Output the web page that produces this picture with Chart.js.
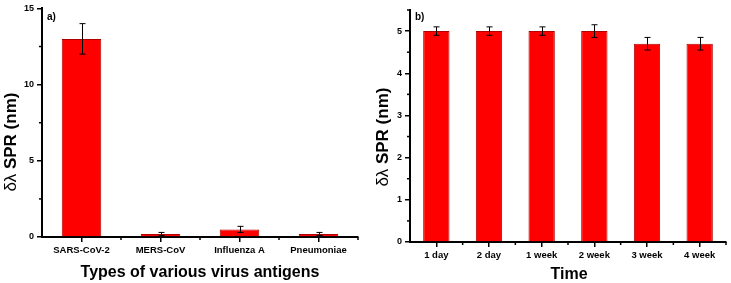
<!DOCTYPE html>
<html><head><meta charset="utf-8">
<script src="https://cdn.jsdelivr.net/npm/chart.js@4"></script>
<style>
html,body{margin:0;padding:0;background:#fff;}
#wrap{position:relative;width:731px;height:283px;}
#ca{position:absolute;left:0;top:0;}
#cb{position:absolute;left:365px;top:0;}
</style></head><body>
<div id="wrap">
<canvas id="ca" width="365" height="283"></canvas>
<canvas id="cb" width="366" height="283"></canvas>
</div>
<script>
// Panel a
const virusCategories = ["SARS-CoV-2", "MERS-CoV", "Influenza A", "Pneumoniae"];
const virusShift = [13, 0.2, 0.5, 0.2];
const virusError = [1, 0.1, 0.2, 0.1];
// Panel b
const timeCategories = ["1 day", "2 day", "1 week", "2 week", "3 week", "4 week"];
const timeShift = [5, 5, 5, 5, 4.7, 4.7];
const timeError = [0.1, 0.1, 0.1, 0.15, 0.15, 0.15];

const FONT = "'Liberation Sans', Arial, sans-serif";

function makeChart(id, cats, vals, errs, opt) {
  const plugin = {
    id: 'extras',
    afterDraw(chart) {
      const ctx = chart.ctx;
      const xs = chart.scales.x, ys = chart.scales.y;
      ctx.save();
      // error bars
      ctx.strokeStyle = '#000';
      ctx.lineWidth = 1;
      vals.forEach((v, i) => {
        const x = Math.round(xs.getPixelForValue(i)) + 0.5;
        const yt = ys.getPixelForValue(v + errs[i]);
        const yb = ys.getPixelForValue(v - errs[i]);
        ctx.beginPath();
        ctx.moveTo(x, yt); ctx.lineTo(x, yb);
        ctx.moveTo(x - 3, yt); ctx.lineTo(x + 3, yt);
        ctx.moveTo(x - 3, yb); ctx.lineTo(x + 3, yb);
        ctx.stroke();
      });
      // minor ticks y
      ctx.lineWidth = 1.5;
      const axX = ys.right;
      for (let v = 0; v <= opt.yMax + 1e-9; v += opt.minor) {
        if (Math.abs(v / opt.step - Math.round(v / opt.step)) < 1e-6) continue;
        const y = ys.getPixelForValue(v);
        ctx.beginPath(); ctx.moveTo(axX - 3, y); ctx.lineTo(axX, y); ctx.stroke();
      }
      // minor ticks x
      const axY = xs.top;
      for (let i = 0; i < cats.length; i++) {
        const x = xs.getPixelForValue(i + 0.5);
        ctx.beginPath(); ctx.moveTo(x, axY); ctx.lineTo(x, axY + 3); ctx.stroke();
      }
      // panel label
      ctx.fillStyle = '#000';
      ctx.font = "bold 10px " + FONT;
      ctx.textAlign = 'left'; ctx.textBaseline = 'middle';
      ctx.fillText(opt.panel, ys.right + 5, 17);
      // x axis title
      ctx.font = "bold 16px " + FONT;
      ctx.textAlign = 'center'; ctx.textBaseline = 'middle';
      ctx.fillText(opt.xTitle, opt.xtx, opt.xty);
      // y axis title: Greek part regular, rest bold
      ctx.translate(opt.ytx, opt.yty);
      ctx.rotate(-Math.PI / 2);
      const greek = "δλ", rest = " SPR (nm)";
      ctx.font = "17px " + FONT;
      const wg = ctx.measureText(greek).width;
      ctx.font = "bold 17px " + FONT;
      const wr = ctx.measureText(rest).width;
      const start = -(wg + wr) / 2;
      ctx.textAlign = 'left';
      ctx.font = "17px " + FONT;
      ctx.fillText(greek, start, 0);
      ctx.font = "bold 17px " + FONT;
      ctx.fillText(rest, start + wg, 0);
      ctx.restore();
    }
  };
  return new Chart(document.getElementById(id), {
    type: 'bar',
    data: {
      labels: cats,
      datasets: [{
        data: vals,
        backgroundColor: '#ff0000',
        borderColor: '#b00000',
        borderWidth: 1,
        barPercentage: opt.barPct,
        categoryPercentage: 1
      }]
    },
    options: {
      responsive: false,
      animation: false,
      events: [],
      layout: { padding: { top: opt.padTop, right: opt.padRight, left: 0, bottom: 0 } },
      plugins: { legend: { display: false }, tooltip: { enabled: false } },
      scales: {
        x: {
          afterFit(s) { s.height = opt.xH; },
          grid: { drawOnChartArea: false, offset: false, tickLength: 5, tickColor: '#000', lineWidth: 1.5 },
          border: { display: true, color: '#000', width: 2 },
          ticks: { color: '#000', font: { family: FONT, size: 9.5, weight: 'bold' }, padding: 3, maxRotation: 0, autoSkip: false }
        },
        y: {
          min: 0, max: opt.yMax,
          afterFit(s) { s.width = opt.yW; },
          grid: { drawOnChartArea: false, tickLength: 5, tickColor: '#000', lineWidth: 1.5 },
          border: { display: true, color: '#000', width: 2 },
          ticks: { stepSize: opt.step, includeBounds: false, color: '#000', padding: 3, font: { family: FONT, size: 9, weight: 'bold' } }
        }
      }
    },
    plugins: [plugin]
  });
}

makeChart('ca', virusCategories, virusShift, virusError, {
  yMax: 15, step: 5, minor: 2.5, barPct: 0.5, padTop: 8, padRight: 7, xH: 46, yW: 42,
  panel: 'a)', xTitle: 'Types of various virus antigens', xtx: 200, xty: 273, ytx: 11, yty: 142
});
makeChart('cb', timeCategories, timeShift, timeError, {
  yMax: 5.5, step: 1, minor: 0.5, barPct: 0.5, padTop: 10, padRight: 5, xH: 41, yW: 45,
  panel: 'b)', xTitle: 'Time', xtx: 204, xty: 275, ytx: 18, yty: 137
});
</script>
</body></html>
